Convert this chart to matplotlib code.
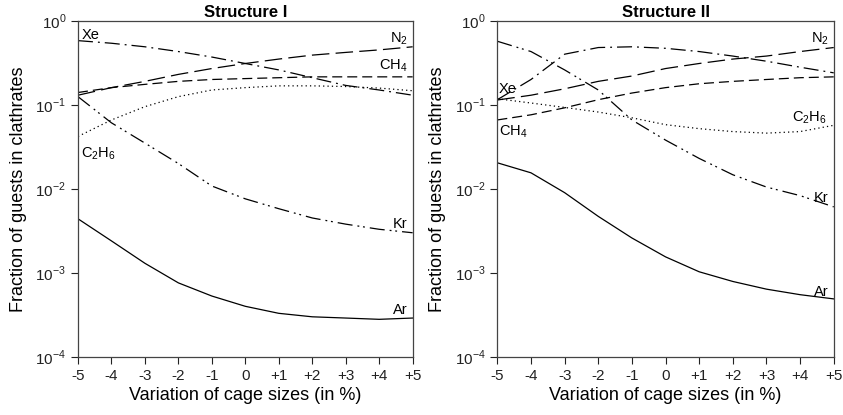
import numpy as np
import matplotlib.pyplot as plt

plt.rcParams['font.family'] = ['Liberation Sans', 'DejaVu Sans']
plt.rcParams['mathtext.fontset'] = 'custom'
plt.rcParams['mathtext.rm'] = 'Liberation Sans'

# cage size variation (%)
variation = [-5, -4, -3, -2, -1, 0, 1, 2, 3, 4, 5]
tick_labels = ['-5', '-4', '-3', '-2', '-1', '0', '+1', '+2', '+3', '+4', '+5']

# Structure I fractions
s1_xe = [0.58, 0.54, 0.49, 0.43, 0.37, 0.31, 0.26, 0.21, 0.17, 0.15, 0.13]
s1_n2 = [0.13, 0.16, 0.19, 0.23, 0.27, 0.31, 0.35, 0.39, 0.42, 0.45, 0.49]
s1_ch4 = [0.14, 0.16, 0.175, 0.19, 0.20, 0.205, 0.21, 0.215, 0.215, 0.215, 0.215]
s1_c2h6 = [0.042, 0.066, 0.095, 0.125, 0.15, 0.16, 0.168, 0.168, 0.165, 0.158, 0.147]
s1_kr = [0.125, 0.061, 0.035, 0.020, 0.0108, 0.0076, 0.0058, 0.0045, 0.0038, 0.0033, 0.0030]
s1_ar = [0.0044, 0.0024, 0.0013, 0.00076, 0.00053, 0.0004, 0.00033, 0.0003, 0.00029, 0.00028, 0.00029]

# Structure II fractions
s2_xe = [0.115, 0.2, 0.4, 0.48, 0.49, 0.47, 0.43, 0.38, 0.33, 0.28, 0.24]
s2_n2 = [0.114, 0.13, 0.155, 0.19, 0.22, 0.27, 0.31, 0.35, 0.38, 0.43, 0.48]
s2_ch4 = [0.066, 0.076, 0.092, 0.115, 0.138, 0.16, 0.178, 0.19, 0.20, 0.21, 0.215]
s2_c2h6 = [0.118, 0.105, 0.093, 0.082, 0.07, 0.058, 0.052, 0.048, 0.046, 0.048, 0.057]
s2_kr = [0.57, 0.43, 0.26, 0.15, 0.066, 0.038, 0.023, 0.0147, 0.0105, 0.0083, 0.0061]
s2_ar = [0.0204, 0.0155, 0.009, 0.0047, 0.0026, 0.00155, 0.00103, 0.00079, 0.00064, 0.00055, 0.00049]

styles = {
    'Xe': (0, (12, 4, 1.5, 4)),
    'Kr': (0, (12, 4, 1.5, 3, 1.5, 4)),
    'N2': (0, (14, 5)),
    'CH4': (0, (8, 4)),
    'C2H6': (0, (1, 2.5)),
    'Ar': '-',
}

fig = plt.figure(figsize=(8.43, 4.15), dpi=100)
ax1 = fig.add_axes([0.0925, 0.140, 0.397, 0.810])
ax2 = fig.add_axes([0.590, 0.140, 0.399, 0.810])


def draw(ax, data, title, labels):
    for name, vals in data.items():
        ax.plot(variation, vals, color='black', lw=0.9, linestyle=styles[name])
    ax.set_yscale('log')
    ax.set_ylim(1e-4, 1)
    ax.set_xlim(-5, 5)
    ax.set_xticks(variation)
    ax.set_xticklabels(tick_labels)
    ax.set_yticks([1e-4, 1e-3, 1e-2, 1e-1, 1])
    ax.set_yticklabels(['$10^{-4}$', '$10^{-3}$', '$10^{-2}$', '$10^{-1}$', '$10^{0}$'])
    ax.minorticks_off()
    ax.tick_params(direction='out', length=5, width=0.8, labelsize=11, colors='#222222')
    for s in ax.spines.values():
        s.set_linewidth(0.9)
        s.set_color('#444444')
    ax.set_title(title, fontsize=12, fontweight='bold', pad=3)
    ax.set_xlabel('Variation of cage sizes (in %)', fontsize=13, labelpad=3)
    ax.set_ylabel('Fraction of guests in clathrates', fontsize=13, labelpad=6)
    for txt, x, y, ha in labels:
        ax.text(x, y, txt, fontsize=10.5, ha=ha, va='center')


draw(ax1, {'Xe': s1_xe, 'N2': s1_n2, 'CH4': s1_ch4, 'C2H6': s1_c2h6,
           'Kr': s1_kr, 'Ar': s1_ar}, 'Structure I',
     [('Xe', -4.9, 0.68, 'left'), ('N$_2$', 4.85, 0.62, 'right'),
      ('CH$_4$', 4.85, 0.29, 'right'), ('C$_2$H$_6$', -4.9, 0.026, 'left'),
      ('Kr', 4.85, 0.0038, 'right'), ('Ar', 4.85, 0.00036, 'right')])

draw(ax2, {'Xe': s2_xe, 'N2': s2_n2, 'CH4': s2_ch4, 'C2H6': s2_c2h6,
           'Kr': s2_kr, 'Ar': s2_ar}, 'Structure II',
     [('Xe', -4.95, 0.155, 'left'), ('N$_2$', 4.85, 0.62, 'right'),
      ('C$_2$H$_6$', 4.8, 0.07, 'right'), ('CH$_4$', -4.95, 0.048, 'left'),
      ('Kr', 4.85, 0.0078, 'right'), ('Ar', 4.85, 0.0006, 'right')])

fig.savefig('out.png', dpi=100)
